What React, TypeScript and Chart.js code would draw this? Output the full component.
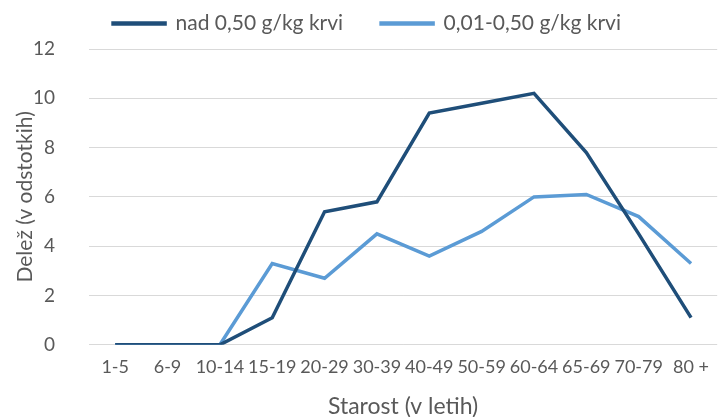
import React, { useEffect, useRef } from "react";
import { Chart, registerables } from "chart.js";

Chart.register(...registerables);

const categories = ["1-5", "6-9", "10-14", "15-19", "20-29", "30-39", "40-49", "50-59", "60-64", "65-69", "70-79", "80 +"];
const seriesHigh = [0, 0, 0, 1.1, 5.4, 5.8, 9.4, 9.8, 10.2, 7.8, 4.5, 1.1];
const seriesLow = [0, 0, 0, 3.3, 2.7, 4.5, 3.6, 4.6, 6.0, 6.1, 5.2, 3.3];
const seriesNames = ["nad 0,50 g/kg krvi", "0,01-0,50 g/kg krvi"];
const yTitle = "Delež (v odstotkih)";
const xTitle = "Starost (v letih)";

const FONT = "Lato, 'Open Sans', sans-serif";
const TEXT = "#595959";

const legendGap = {
  id: "legendGap",
  beforeInit(chart: any) {
    const legend = chart.legend;
    if (!legend) return;
    const origFit = legend.fit;
    legend.fit = function () {
      origFit.call(this);
      this.height += 5;
    };
  },
};

export default function App() {
  const ref = useRef<HTMLCanvasElement | null>(null);
  useEffect(() => {
    document.body.style.margin = "0";
    document.body.style.overflow = "hidden";
    const ctx = ref.current!;
    const chart = new Chart(ctx, {
      type: "line",
      data: {
        labels: categories,
        datasets: [
          {
            label: seriesNames[0],
            data: seriesHigh,
            borderColor: "#1F4E79",
            backgroundColor: "#1F4E79",
            borderWidth: 3.5,
            pointRadius: 0,
            tension: 0,
          },
          {
            label: seriesNames[1],
            data: seriesLow,
            borderColor: "#5B9BD5",
            backgroundColor: "#5B9BD5",
            borderWidth: 3.5,
            pointRadius: 0,
            tension: 0,
          },
        ],
      },
      plugins: [legendGap],
      options: {
        animation: false,
        responsive: false,
        layout: { padding: { left: 13, right: 0, top: -25, bottom: -3 } },
        plugins: {
          tooltip: { enabled: false },
          legend: {
            position: "top",
            labels: {
              color: TEXT,
              font: { family: FONT, size: 21 },
              boxWidth: 52,
              boxHeight: 1,
              padding: 38,
            },
          },
        },
        scales: {
          x: {
            offset: true,
            grid: { display: false, drawTicks: false },
            border: { display: false },
            ticks: {
              color: TEXT,
              font: { family: FONT, size: 18 },
              maxRotation: 0,
              minRotation: 0,
              autoSkip: false,
              padding: 12,
            },
            title: {
              display: true,
              text: xTitle,
              color: TEXT,
              font: { family: FONT, size: 23 },
              padding: { top: 2, bottom: 0 },
            },
          },
          y: {
            min: 0,
            max: 12,
            afterFit: (scale: any) => {
              scale.width = 76;
            },
            ticks: {
              stepSize: 2,
              color: TEXT,
              font: { family: FONT, size: 19 },
              padding: 34,
            },
            grid: { color: "#D9D9D9", lineWidth: 1, drawTicks: false },
            border: { display: false },
            title: {
              display: true,
              text: yTitle,
              color: TEXT,
              font: { family: FONT, size: 21 },
              padding: { top: 0, bottom: 10 },
            },
          },
        },
      },
    });
    return () => chart.destroy();
  }, []);
  return (
    <div style={{ position: "fixed", left: 0, top: 0, width: 721, height: 417 }}>
      <canvas ref={ref} width={721} height={417} />
    </div>
  );
}
